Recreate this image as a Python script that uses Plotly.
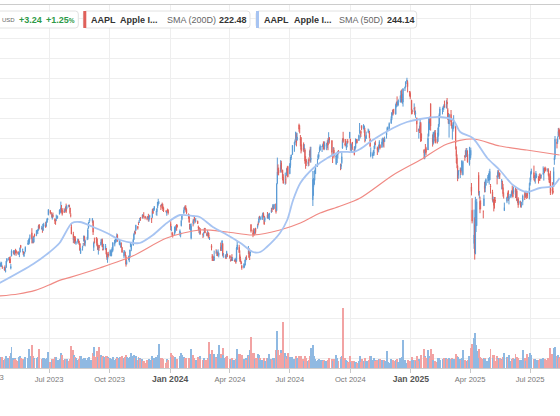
import pandas as pd
import plotly.graph_objects as go

W, H = 560, 416
PLOT_TOP, PLOT_BOTTOM = 5, 368

# trading calendar of the visible window
start_day = "2023-04-17"
end_day = "2025-08-15"
market_holidays = [
    "2023-05-29", "2023-06-19", "2023-07-04", "2023-09-04", "2023-11-23", "2023-12-25",
    "2024-01-01", "2024-01-15", "2024-02-19", "2024-03-29", "2024-05-27", "2024-06-19",
    "2024-07-04", "2024-09-02", "2024-11-28", "2024-12-25",
    "2025-01-01", "2025-01-09", "2025-01-20", "2025-02-17", "2025-04-18", "2025-05-26",
    "2025-06-19", "2025-07-04",
]

# daily AAPL candles, one row per month (Apr 2023 .. Aug 2025)
opens = [
    165.1, 166.1, 165.8, 166.1, 165.1, 165.0, 165.2, 163.1, 165.2, 168.5,
    169.3, 170.1, 169.5, 164.9, 171.0, 172.5, 173.1, 172.6, 173.9, 173.6, 173.2, 171.9, 171.7, 173.0, 176.4, 173.9, 173.1, 171.1, 172.4, 173.3, 176.9, 177.3,
    177.7, 181.0, 182.6, 179.0, 178.4, 177.9, 181.5, 181.3, 182.8, 183.4, 183.9, 186.7, 184.4, 184.9, 183.7, 185.8, 186.8, 185.9, 187.9, 189.1, 191.6,
    193.8, 191.6, 189.8, 191.4, 189.3, 189.2, 189.7, 190.5, 190.2, 191.9, 193.4, 193.1, 195.1, 194.1, 193.4, 193.3, 193.7, 196.0, 194.7, 196.1,
    196.2, 195.0, 191.6, 185.5, 182.1, 179.7, 180.9, 179.5, 177.3, 178.0, 178.9, 177.1, 177.1, 172.3, 175.1, 177.1, 178.5, 180.7, 177.4, 180.1, 179.7, 184.9, 187.8,
    189.5, 188.3, 188.4, 175.2, 178.4, 180.1, 179.5, 176.5, 174.0, 176.5, 176.5, 177.5, 179.3, 174.6, 174.7, 174.2, 174.8, 172.6, 169.3, 172.0,
    171.2, 172.3, 171.1, 173.8, 173.8, 176.8, 178.1, 178.2, 180.1, 181.4, 176.8, 176.7, 175.6, 176.0, 175.3, 170.9, 173.1, 171.9, 170.4, 166.9, 169.0, 169.4,
    171.0, 175.5, 174.2, 176.4, 179.2, 182.4, 183.0, 184.0, 185.8, 187.7, 187.8, 189.6, 190.3, 189.9, 191.4, 191.5, 190.9, 189.9, 189.8, 190.9, 189.8,
    190.3, 190.0, 190.2, 194.5, 193.6, 194.2, 193.1, 193.1, 195.1, 198.0, 197.5, 196.1, 196.2, 196.9, 196.1, 195.2, 193.6, 192.5, 194.1, 193.9,
    187.2, 184.2, 182.2, 182.0, 182.1, 183.9, 184.4, 186.5, 186.1, 182.2, 181.3, 186.1, 189.3, 192.3, 195.0, 195.4, 195.2, 194.3, 192.0, 190.9, 187.0,
    184.0, 179.9, 188.2, 187.1, 190.6, 189.4, 188.7, 188.4, 185.8, 185.3, 183.6, 183.4, 181.8, 181.9, 183.5, 185.0, 182.2, 181.1, 182.5, 181.3,
    179.6, 176.2, 170.8, 171.1, 169.2, 169.0, 172.9, 173.2, 172.8, 172.9, 171.2, 175.6, 174.3, 175.7, 177.1, 171.8, 170.6, 170.0, 170.4, 171.8,
    171.2, 169.1, 168.8, 170.3, 169.6, 169.0, 168.7, 168.8, 168.3, 174.3, 175.4, 171.8, 169.6, 168.0, 166.2, 165.5, 165.4, 166.5, 169.5, 169.9, 173.4, 173.3,
    169.6, 172.5, 186.6, 182.4, 183.5, 182.9, 182.6, 184.9, 185.4, 187.5, 187.9, 190.5, 189.5, 189.3, 191.1, 192.3, 191.0, 188.8, 191.5, 189.6, 190.8, 191.4,
    192.9, 194.6, 195.4, 195.7, 194.7, 197.0, 193.7, 207.4, 214.7, 213.9, 213.4, 217.6, 213.9, 210.4, 207.7, 209.2, 211.5, 214.7, 215.8,
    212.1, 216.2, 220.0, 221.7, 227.1, 227.9, 229.3, 231.4, 228.9, 236.5, 235.0, 229.5, 230.3, 224.8, 227.0, 224.4, 224.0, 218.9, 218.7, 217.0, 219.2, 221.4,
    224.4, 219.2, 199.1, 205.3, 206.9, 213.1, 212.1, 216.1, 219.6, 220.6, 224.6, 223.9, 225.7, 225.8, 226.5, 227.8, 225.7, 226.8, 226.0, 227.9, 227.9, 230.2,
    228.6, 221.7, 221.6, 224.0, 220.8, 218.9, 221.5, 222.5, 223.6, 216.5, 215.8, 217.6, 225.0, 230.0, 227.3, 228.6, 224.9, 227.3, 228.5, 230.0,
    229.5, 225.9, 225.1, 227.9, 224.5, 224.3, 225.2, 227.8, 229.3, 228.7, 233.6, 231.6, 233.4, 236.2, 234.5, 233.9, 234.1, 230.0, 229.7, 233.3, 233.1, 232.6, 229.3,
    221.0, 221.0, 221.8, 222.6, 224.6, 227.2, 225.0, 224.6, 224.0, 225.0, 226.4, 225.3, 227.0, 228.1, 228.9, 228.1, 231.5, 233.3, 234.5, 234.8,
    237.3, 239.8, 242.9, 244.0, 242.9, 241.8, 246.9, 248.0, 246.9, 247.8, 248.0, 250.1, 252.2, 247.5, 248.0, 254.8, 255.5, 258.2, 257.8, 252.2, 252.4,
    248.9, 243.4, 244.3, 243.0, 241.9, 240.0, 233.5, 234.8, 234.6, 237.4, 232.1, 224.0, 219.8, 224.7, 224.8, 224.0, 230.9, 234.1, 238.7, 247.2,
    230.0, 227.3, 228.5, 231.3, 232.6, 229.6, 228.2, 231.2, 236.9, 241.3, 244.2, 244.7, 244.9, 246.0, 244.9, 248.0, 244.3, 239.4, 237.0,
    241.8, 237.7, 235.4, 234.4, 235.1, 235.5, 223.8, 220.1, 216.0, 211.3, 213.3, 214.2, 214.2, 214.0, 211.6, 221.0, 220.8, 223.5, 221.4, 221.7, 217.0,
    219.8, 221.3, 205.5, 193.9, 177.2, 186.7, 172.0, 189.1, 186.1, 211.4, 201.9, 198.4, 197.2, 193.3, 196.1, 206.0, 204.9, 206.4, 210.0, 208.7, 209.3,
    209.1, 206.1, 203.1, 198.2, 199.2, 198.5, 199.0, 211.0, 210.4, 212.4, 211.0, 212.4, 207.9, 207.7, 205.2, 201.6, 193.7, 198.3, 200.6, 203.6, 199.4,
    200.3, 201.4, 202.9, 203.5, 203.0, 204.4, 200.6, 203.5, 199.1, 199.7, 197.3, 197.2, 195.9, 198.2, 201.6, 202.6, 201.5, 201.4, 201.9, 202.0,
    206.7, 208.9, 212.2, 212.7, 210.1, 209.5, 210.5, 210.6, 209.9, 209.2, 210.3, 210.6, 210.9, 212.1, 213.1, 215.0, 213.9, 214.7, 214.0, 214.2, 211.9, 208.5,
    210.9, 204.5, 203.4, 205.6, 218.9, 220.8, 227.9, 228.0, 231.1, 234.1, 234.0,
]
highs = [
    165.4, 167.4, 168.2, 167.9, 166.2, 165.6, 166.3, 165.3, 168.6, 169.9,
    170.5, 170.4, 170.9, 167.0, 174.3, 173.9, 173.5, 174.0, 174.6, 174.1, 173.2, 173.0, 172.9, 175.2, 176.4, 174.7, 173.4, 172.4, 173.1, 175.8, 178.9, 179.4,
    180.1, 181.8, 184.9, 180.1, 181.1, 180.8, 182.2, 183.9, 184.1, 184.4, 186.5, 186.9, 186.1, 185.4, 187.1, 187.6, 188.1, 188.4, 189.9, 190.1, 194.5,
    193.9, 192.9, 192.0, 192.7, 189.9, 189.3, 191.7, 191.2, 191.2, 194.3, 194.3, 198.2, 196.5, 194.9, 194.9, 194.4, 195.6, 197.2, 196.5, 196.5,
    196.7, 195.2, 192.4, 187.4, 183.1, 180.3, 180.9, 180.8, 178.6, 179.7, 179.4, 178.5, 177.5, 175.1, 176.1, 177.5, 181.1, 181.1, 179.2, 180.6, 184.9, 187.9, 189.0,
    189.9, 190.0, 188.9, 178.2, 180.2, 180.5, 180.1, 177.3, 176.1, 176.5, 179.4, 179.6, 179.7, 176.3, 177.1, 177.0, 175.0, 173.0, 172.0, 173.1,
    174.3, 173.6, 174.3, 175.5, 178.0, 179.1, 179.7, 179.9, 182.3, 181.9, 179.1, 178.4, 177.6, 177.8, 175.4, 174.0, 173.7, 173.1, 171.4, 169.0, 171.2, 170.9,
    174.2, 177.8, 176.8, 179.4, 182.4, 183.5, 184.1, 186.6, 186.0, 188.1, 189.0, 190.0, 190.4, 191.9, 191.5, 192.9, 190.9, 190.7, 191.0, 192.1, 190.3,
    191.6, 190.1, 194.4, 194.8, 195.0, 196.0, 193.5, 194.7, 198.0, 199.6, 198.4, 196.6, 197.0, 197.7, 197.1, 195.4, 193.9, 193.5, 194.7, 194.4,
    188.4, 185.9, 183.1, 182.8, 185.6, 185.2, 186.4, 187.0, 186.7, 184.3, 182.9, 189.1, 192.0, 195.3, 195.8, 196.4, 196.3, 194.8, 192.2, 191.8, 187.1,
    187.0, 187.3, 189.3, 189.3, 191.1, 189.5, 190.0, 188.7, 186.2, 185.5, 184.5, 184.9, 182.4, 182.9, 185.0, 185.0, 182.8, 183.9, 183.1, 182.6,
    180.5, 176.9, 172.0, 171.2, 170.7, 173.7, 174.4, 174.0, 173.2, 174.3, 172.6, 177.7, 176.6, 178.7, 177.5, 172.3, 171.9, 171.4, 173.6, 172.2,
    171.3, 169.3, 170.7, 171.9, 170.4, 169.2, 170.1, 169.1, 175.5, 178.4, 176.6, 173.8, 170.7, 168.6, 166.4, 167.3, 167.1, 169.3, 170.6, 171.3, 176.0, 175.0,
    172.7, 173.4, 187.0, 184.2, 184.9, 183.1, 184.7, 185.1, 187.1, 188.3, 190.7, 191.1, 190.8, 191.6, 192.7, 192.8, 191.0, 190.6, 193.0, 192.2, 192.2, 192.6,
    195.0, 195.3, 196.9, 196.5, 196.9, 197.3, 207.2, 220.2, 216.8, 215.2, 218.9, 218.6, 214.2, 211.9, 212.7, 211.4, 214.9, 215.7, 216.1,
    217.5, 220.4, 221.6, 226.5, 227.9, 229.4, 233.1, 232.4, 232.6, 237.2, 236.3, 231.5, 230.4, 226.8, 227.8, 226.9, 224.8, 220.9, 219.5, 219.3, 220.3, 223.8,
    225.6, 225.6, 213.5, 210.0, 213.6, 214.2, 216.8, 219.5, 221.9, 223.0, 225.4, 226.8, 226.0, 227.2, 228.3, 228.3, 228.2, 227.3, 228.9, 229.9, 232.9, 230.4,
    229.0, 221.8, 225.5, 225.2, 221.3, 221.5, 223.1, 223.6, 224.0, 217.2, 216.9, 222.7, 229.8, 233.1, 229.5, 229.5, 227.3, 228.5, 229.5, 233.0,
    229.7, 227.4, 226.8, 228.0, 225.7, 226.0, 229.8, 229.5, 229.4, 231.7, 237.5, 232.1, 233.9, 236.2, 236.9, 236.2, 235.1, 230.8, 233.2, 234.7, 234.3, 233.5, 229.8,
    225.3, 222.8, 224.0, 226.1, 227.9, 228.7, 225.7, 225.6, 226.7, 228.9, 226.9, 229.7, 230.2, 229.9, 230.2, 230.7, 233.2, 235.6, 235.7, 237.8,
    240.8, 242.8, 244.1, 244.5, 244.6, 247.2, 248.2, 250.8, 248.7, 249.3, 251.4, 253.8, 254.3, 252.0, 255.0, 255.7, 258.2, 260.1, 258.7, 253.5, 253.3,
    249.1, 244.2, 247.3, 245.6, 243.7, 240.2, 234.7, 236.2, 239.0, 238.0, 232.3, 224.4, 224.1, 227.0, 225.6, 232.2, 240.2, 239.9, 240.8, 247.2,
    231.8, 233.1, 232.7, 233.8, 234.0, 230.6, 235.2, 237.0, 242.3, 245.6, 245.2, 246.0, 246.8, 248.7, 248.9, 250.0, 245.0, 242.5, 242.1,
    244.0, 240.1, 236.6, 237.9, 241.4, 236.2, 225.8, 221.8, 216.8, 214.0, 215.2, 215.2, 218.8, 217.5, 218.8, 221.5, 224.1, 225.0, 225.0, 223.8, 225.6,
    223.8, 225.2, 207.5, 199.9, 194.2, 190.3, 200.6, 194.8, 199.5, 212.9, 203.5, 200.7, 198.8, 193.8, 201.6, 208.0, 208.8, 209.8, 211.5, 212.2, 213.6,
    214.6, 207.0, 204.1, 200.7, 199.4, 200.5, 200.5, 211.3, 213.9, 213.9, 213.0, 212.6, 209.5, 208.6, 207.0, 202.8, 197.7, 200.7, 202.7, 203.8, 202.0,
    202.1, 203.8, 206.2, 204.8, 205.7, 206.0, 204.4, 204.5, 199.7, 200.4, 198.7, 198.4, 198.0, 201.7, 203.4, 203.4, 203.7, 202.6, 203.2, 207.4,
    210.2, 213.3, 214.7, 216.2, 211.4, 211.3, 213.5, 212.1, 210.9, 211.9, 212.4, 211.8, 211.8, 215.8, 215.0, 215.2, 215.7, 215.2, 214.9, 214.8, 212.4, 209.8,
    213.6, 207.9, 205.3, 215.4, 220.9, 231.0, 229.6, 230.8, 235.0, 235.1, 234.3,
]
lows = [
    164.0, 165.8, 165.5, 165.6, 164.6, 163.9, 163.6, 162.8, 165.2, 167.9,
    168.8, 167.5, 167.3, 164.3, 170.8, 172.1, 171.5, 171.3, 172.2, 171.1, 171.7, 171.8, 170.4, 172.7, 174.9, 172.8, 171.6, 170.5, 172.0, 173.1, 176.6, 176.6,
    176.9, 179.3, 177.3, 177.4, 177.3, 177.7, 180.6, 180.9, 182.2, 182.0, 183.8, 184.3, 184.4, 182.6, 183.7, 185.7, 185.2, 185.8, 187.6, 188.9, 191.3,
    191.8, 190.2, 189.2, 190.2, 187.0, 186.6, 188.5, 189.8, 189.6, 191.8, 192.4, 192.7, 192.7, 191.2, 192.6, 192.9, 193.3, 192.5, 194.3, 195.3,
    195.3, 191.9, 190.3, 181.9, 177.4, 177.6, 177.1, 177.4, 176.6, 177.1, 177.4, 176.5, 173.5, 172.0, 173.7, 175.9, 178.2, 176.3, 175.8, 178.9, 179.1, 184.7, 187.5,
    188.3, 187.6, 181.5, 173.5, 177.3, 177.3, 175.8, 174.0, 171.7, 173.6, 176.2, 177.1, 175.4, 173.9, 174.1, 174.2, 171.7, 169.1, 167.6, 170.3,
    171.0, 170.8, 170.9, 172.8, 173.2, 175.8, 177.6, 177.8, 179.0, 178.1, 176.5, 176.1, 175.1, 175.2, 172.6, 169.9, 171.5, 170.6, 165.7, 166.8, 168.9, 167.9,
    170.1, 175.5, 173.4, 176.2, 179.0, 181.6, 181.8, 183.5, 184.2, 186.4, 187.6, 188.6, 188.6, 189.9, 189.7, 190.8, 189.3, 188.9, 189.4, 188.2, 188.2,
    189.2, 187.5, 190.2, 192.1, 193.6, 193.7, 191.4, 191.1, 194.8, 196.2, 197.0, 194.0, 195.9, 194.8, 193.5, 193.0, 192.8, 191.1, 193.2, 191.7,
    183.9, 183.4, 180.9, 180.2, 181.5, 182.7, 183.9, 183.6, 185.2, 180.9, 180.3, 185.8, 188.8, 192.3, 193.8, 194.3, 193.1, 191.9, 189.6, 187.5, 184.4,
    183.8, 179.3, 185.8, 186.8, 188.8, 187.4, 188.0, 187.0, 183.6, 182.4, 181.7, 181.7, 180.0, 180.6, 182.5, 182.4, 180.9, 180.9, 180.1, 179.6,
    179.0, 173.8, 168.5, 168.5, 168.5, 168.5, 172.1, 171.0, 170.9, 172.2, 170.3, 173.5, 173.5, 175.1, 170.8, 170.1, 170.0, 169.5, 170.1, 170.5,
    169.5, 168.2, 168.5, 168.6, 168.5, 168.2, 168.4, 167.1, 168.2, 174.2, 172.5, 168.2, 168.0, 166.8, 164.1, 164.8, 165.1, 166.2, 168.2, 169.0, 172.0, 170.0,
    169.1, 170.9, 182.7, 180.4, 181.3, 181.3, 182.1, 182.1, 184.7, 186.3, 187.4, 189.4, 188.9, 189.0, 190.9, 190.3, 186.6, 188.0, 189.9, 189.5, 190.1, 188.9,
    192.5, 193.0, 194.5, 194.1, 194.4, 192.2, 193.6, 206.9, 211.6, 211.3, 212.7, 212.7, 208.8, 207.1, 206.6, 207.1, 211.1, 212.4, 210.3,
    211.9, 215.1, 219.0, 221.6, 223.1, 226.4, 229.2, 225.8, 228.7, 233.1, 232.3, 225.8, 222.3, 223.3, 223.1, 222.7, 217.1, 214.6, 216.0, 215.8, 216.1, 220.6,
    217.7, 217.7, 196.0, 201.1, 206.4, 208.8, 212.0, 215.6, 219.2, 219.7, 222.8, 223.7, 223.0, 225.5, 224.3, 223.9, 224.3, 223.9, 224.9, 223.9, 228.9, 227.2,
    221.2, 217.5, 221.5, 219.8, 216.7, 216.7, 217.5, 219.8, 221.9, 213.9, 214.4, 217.0, 224.6, 227.6, 225.8, 225.9, 224.0, 225.4, 227.3, 229.7,
    223.7, 223.0, 223.0, 224.1, 221.3, 223.2, 224.8, 227.2, 227.3, 228.6, 232.1, 229.8, 230.5, 234.0, 234.5, 232.6, 227.8, 228.4, 229.6, 232.6, 232.3, 229.8, 225.4,
    220.3, 219.7, 221.1, 221.2, 224.6, 226.4, 221.5, 223.4, 222.8, 225.0, 224.3, 225.2, 226.7, 225.7, 225.2, 228.1, 229.7, 233.1, 233.8, 233.8,
    237.2, 238.9, 241.3, 241.3, 242.1, 241.8, 245.3, 246.3, 245.7, 246.2, 247.7, 249.8, 247.7, 247.1, 245.7, 253.5, 255.3, 257.0, 252.8, 250.8, 249.4,
    241.8, 241.9, 243.0, 241.4, 240.1, 233.0, 229.7, 232.5, 234.4, 228.0, 228.5, 219.4, 219.4, 222.3, 221.4, 224.0, 230.8, 234.1, 237.2, 233.7,
    225.7, 226.7, 228.3, 230.4, 227.3, 227.2, 228.0, 230.7, 235.6, 240.8, 241.8, 243.0, 244.1, 245.2, 244.9, 244.9, 239.1, 237.0, 230.2,
    236.1, 234.7, 229.2, 233.2, 234.7, 224.2, 217.5, 214.9, 208.4, 209.6, 210.0, 211.5, 213.6, 212.2, 211.3, 218.6, 220.1, 220.5, 220.6, 217.7, 216.2,
    219.0, 220.1, 201.3, 187.3, 174.6, 169.2, 171.9, 183.0, 186.1, 201.2, 199.8, 192.4, 194.4, 189.8, 196.0, 202.8, 202.9, 206.1, 207.5, 208.4, 206.7,
    208.9, 202.2, 198.2, 197.5, 193.3, 194.7, 197.5, 206.8, 209.6, 210.6, 209.5, 209.5, 204.3, 204.4, 200.7, 199.7, 193.5, 197.4, 199.9, 198.5, 196.8,
    200.1, 201.0, 202.1, 200.2, 202.1, 200.0, 200.6, 198.4, 197.4, 195.1, 196.6, 195.2, 195.2, 196.4, 199.0, 200.2, 200.6, 199.5, 200.0, 199.3,
    206.1, 208.1, 211.8, 208.8, 208.2, 207.2, 210.1, 209.9, 207.2, 208.6, 208.6, 209.6, 209.7, 211.6, 208.7, 212.4, 213.5, 213.2, 213.1, 210.8, 207.7, 207.5,
    201.5, 201.7, 202.2, 205.6, 216.6, 219.3, 224.8, 227.1, 230.4, 230.9, 229.3,
]
closes = [
    165.2, 166.5, 167.6, 166.7, 165.0, 165.3, 163.8, 163.8, 168.4, 169.7,
    169.6, 168.5, 167.5, 165.8, 173.6, 173.5, 171.8, 173.6, 173.8, 172.6, 172.1, 172.1, 172.7, 175.1, 175.2, 174.2, 171.6, 171.8, 173.0, 175.4, 177.3, 177.3,
    180.1, 181.0, 179.6, 179.2, 177.8, 180.6, 181.0, 183.8, 183.3, 184.0, 186.0, 184.9, 185.0, 184.0, 187.0, 186.7, 185.3, 188.1, 189.3, 189.6, 194.0,
    192.5, 191.3, 191.8, 190.7, 188.6, 188.1, 189.8, 190.5, 190.7, 194.0, 193.7, 195.1, 193.1, 191.9, 192.8, 193.6, 194.5, 193.2, 195.8, 196.5,
    195.6, 192.6, 191.2, 182.0, 178.9, 179.8, 178.2, 178.0, 177.8, 179.5, 177.5, 176.6, 174.0, 174.5, 175.8, 177.2, 181.1, 176.4, 178.6, 180.2, 184.1, 187.7, 187.9,
    189.5, 189.7, 182.9, 177.6, 178.2, 179.4, 176.3, 174.2, 175.7, 175.0, 178.0, 179.1, 175.5, 173.9, 174.8, 176.1, 172.0, 170.4, 170.7, 171.2,
    173.8, 172.4, 173.7, 174.9, 177.5, 179.0, 178.4, 179.8, 180.7, 178.9, 178.7, 177.2, 175.8, 175.5, 172.9, 173.0, 173.4, 171.1, 166.9, 168.2, 170.3, 170.8,
    174.0, 177.6, 176.7, 179.2, 181.8, 182.9, 182.4, 186.4, 184.8, 187.4, 188.0, 189.7, 189.7, 191.5, 190.6, 191.3, 190.0, 189.8, 190.4, 189.4, 190.0,
    191.2, 189.4, 193.4, 192.3, 194.3, 195.7, 193.2, 194.7, 198.0, 198.1, 197.6, 195.9, 196.9, 194.8, 194.7, 193.6, 193.1, 193.2, 193.6, 192.5,
    185.6, 184.3, 181.9, 181.2, 185.6, 185.1, 186.2, 185.6, 185.9, 183.6, 182.7, 188.6, 191.6, 193.9, 195.2, 194.5, 194.2, 192.4, 191.7, 188.0, 184.4,
    186.9, 185.9, 187.7, 189.3, 189.4, 188.3, 188.9, 187.2, 185.0, 184.2, 183.9, 182.3, 181.6, 182.3, 184.4, 182.5, 181.2, 182.6, 181.4, 180.8,
    179.7, 175.1, 170.1, 169.1, 169.0, 170.7, 172.8, 173.2, 171.1, 173.0, 172.6, 173.7, 176.1, 178.7, 171.4, 172.3, 170.9, 169.7, 173.3, 171.5,
    170.0, 168.8, 169.7, 168.8, 169.6, 168.5, 169.7, 167.8, 175.0, 176.6, 172.7, 169.4, 168.0, 167.0, 165.0, 165.8, 166.9, 169.0, 169.9, 169.3, 173.5, 170.3,
    169.3, 173.0, 183.4, 181.7, 182.4, 182.7, 184.6, 183.1, 186.3, 187.4, 189.7, 189.8, 189.9, 191.0, 192.4, 190.9, 186.9, 190.0, 190.0, 190.3, 191.3, 192.3,
    194.0, 194.4, 195.9, 194.5, 196.9, 193.1, 207.2, 213.1, 214.2, 212.5, 216.7, 214.3, 209.7, 207.5, 208.1, 209.1, 213.3, 214.1, 210.6,
    216.8, 220.3, 221.6, 226.3, 227.8, 228.7, 233.0, 227.6, 230.5, 234.4, 234.8, 228.9, 224.2, 224.3, 224.0, 225.0, 218.5, 217.5, 218.0, 218.2, 218.8, 222.1,
    218.4, 219.9, 209.3, 207.2, 209.8, 213.3, 216.2, 217.5, 221.3, 221.7, 224.7, 226.1, 225.9, 226.5, 226.4, 224.5, 226.8, 227.2, 228.0, 226.5, 229.8, 229.0,
    222.8, 220.9, 222.4, 220.8, 220.9, 220.1, 222.7, 222.8, 222.5, 216.3, 216.8, 220.7, 228.9, 228.2, 226.5, 227.4, 226.4, 227.5, 227.8, 233.0,
    226.2, 226.8, 225.7, 226.8, 221.7, 225.8, 229.5, 229.0, 227.6, 231.3, 233.9, 231.8, 232.2, 235.0, 236.5, 235.9, 230.8, 230.6, 231.4, 233.4, 233.7, 230.1, 225.9,
    222.9, 222.0, 223.5, 222.7, 227.5, 227.0, 224.2, 224.2, 225.1, 228.2, 225.0, 228.0, 228.3, 229.0, 228.5, 229.9, 232.9, 235.1, 234.9, 237.3,
    239.6, 242.7, 243.0, 243.0, 242.8, 246.8, 247.8, 246.5, 248.0, 248.1, 251.0, 253.5, 248.1, 249.8, 254.5, 255.3, 258.2, 259.0, 255.6, 252.2, 250.4,
    243.9, 243.4, 245.0, 242.2, 242.7, 236.9, 234.4, 233.3, 237.9, 228.3, 230.0, 222.6, 223.8, 223.7, 222.8, 229.9, 238.3, 239.4, 237.6, 236.0,
    228.0, 232.8, 232.5, 233.2, 227.6, 227.7, 232.6, 236.9, 241.5, 244.6, 244.5, 244.9, 245.8, 245.6, 247.1, 247.0, 240.4, 237.3, 241.8,
    238.0, 235.9, 235.7, 235.3, 239.1, 227.5, 220.8, 217.0, 209.7, 213.5, 214.0, 212.7, 215.2, 214.1, 218.3, 220.7, 223.8, 221.5, 223.9, 217.9, 222.1,
    223.2, 223.9, 203.2, 188.4, 181.5, 172.4, 198.9, 190.4, 198.2, 202.5, 202.1, 194.3, 197.0, 193.2, 199.7, 204.6, 208.4, 209.3, 210.1, 211.2, 212.5,
    213.3, 205.4, 198.9, 198.5, 196.3, 197.5, 198.5, 210.8, 212.9, 212.3, 211.5, 211.3, 208.8, 206.9, 202.1, 201.4, 195.3, 200.2, 200.4, 200.0, 200.9,
    201.7, 203.3, 202.8, 200.6, 203.9, 201.5, 202.7, 198.8, 199.2, 196.5, 198.4, 195.6, 196.6, 201.0, 201.5, 200.3, 201.6, 201.0, 201.1, 205.2,
    207.8, 212.4, 213.6, 210.0, 210.0, 211.1, 212.4, 211.2, 208.6, 209.1, 210.2, 210.0, 211.2, 212.5, 214.4, 214.2, 213.8, 213.9, 214.1, 211.3, 209.1, 207.6,
    202.4, 203.4, 202.9, 213.3, 220.0, 229.4, 227.2, 229.7, 233.3, 232.8, 231.6,
]
# daily volume, millions of shares
volumes_m = [
    41, 49, 58, 52, 58, 41, 48, 45, 64, 55,
    52, 49, 66, 81, 113, 55, 45, 53, 49, 45, 37, 43, 57, 66, 55, 44, 50, 45, 56, 54, 55, 99,
    68, 61, 122, 64, 61, 51, 48, 55, 54, 57, 66, 101, 50, 49, 51, 54, 48, 50, 51, 46, 85,
    31, 46, 45, 47, 60, 46, 60, 41, 41, 50, 48, 80, 59, 71, 45, 37, 47, 47, 48, 38,
    35, 50, 61, 115, 97, 67, 60, 54, 52, 43, 43, 46, 66, 61, 46, 42, 52, 54, 52, 43, 53, 60, 60,
    45, 45, 81, 112, 65, 58, 90, 84, 60, 109, 67, 51, 58, 63, 56, 46, 64, 66, 56, 51,
    52, 49, 43, 48, 58, 43, 43, 48, 57, 51, 52, 57, 54, 59, 65, 55, 44, 57, 70, 58, 51, 44,
    56, 77, 80, 63, 70, 49, 54, 66, 43, 60, 53, 54, 50, 46, 38, 39, 24, 40, 38, 43, 48,
    45, 43, 66, 41, 47, 53, 60, 52, 70, 67, 128, 55, 40, 52, 46, 37, 28, 48, 34, 42,
    82, 58, 71, 62, 59, 42, 46, 49, 40, 65, 47, 78, 68, 60, 42, 53, 54, 44, 47, 55, 55,
    64, 102, 69, 43, 53, 40, 45, 42, 56, 54, 65, 49, 43, 41, 53, 45, 40, 54, 48, 136,
    73, 82, 95, 68, 71, 76, 60, 59, 52, 72, 121, 75, 55, 53, 106, 71, 54, 57, 60, 65,
    46, 49, 47, 53, 42, 38, 43, 50, 91, 101, 73, 73, 50, 44, 68, 48, 49, 48, 51, 44, 68, 65,
    50, 94, 163, 79, 77, 45, 49, 51, 72, 53, 70, 52, 45, 44, 42, 34, 51, 37, 52, 53, 49, 75,
    50, 47, 54, 41, 53, 97, 172, 198, 97, 70, 93, 79, 86, 246, 80, 56, 66, 50, 82,
    60, 58, 38, 60, 48, 49, 62, 64, 53, 62, 43, 57, 66, 49, 49, 39, 61, 51, 41, 37, 42, 50,
    62, 105, 120, 69, 63, 47, 42, 38, 44, 41, 46, 44, 40, 31, 35, 43, 38, 30, 35, 43, 52, 53,
    50, 43, 38, 48, 68, 52, 44, 38, 37, 59, 46, 60, 66, 318, 55, 43, 42, 37, 34, 55,
    63, 32, 35, 37, 39, 32, 32, 29, 29, 39, 64, 35, 32, 47, 37, 38, 52, 31, 38, 36, 36, 41, 65,
    65, 44, 28, 54, 42, 37, 42, 40, 48, 44, 47, 44, 36, 35, 42, 38, 90, 46, 33, 28,
    48, 38, 45, 40, 36, 44, 37, 46, 33, 33, 51, 51, 56, 60, 147, 40, 23, 27, 42, 35, 39,
    56, 40, 45, 40, 38, 61, 50, 39, 40, 71, 68, 99, 64, 60, 54, 94, 65, 45, 55, 101,
    73, 45, 39, 29, 39, 34, 53, 45, 54, 40, 48, 32, 32, 53, 51, 48, 45, 41, 53,
    47, 53, 47, 45, 46, 72, 76, 63, 60, 60, 48, 42, 54, 48, 94, 44, 34, 34, 37, 40, 66,
    37, 53, 104, 126, 161, 120, 184, 121, 88, 101, 52, 60, 52, 47, 53, 53, 47, 38, 39, 37, 52,
    58, 101, 69, 51, 68, 55, 36, 63, 51, 49, 46, 54, 46, 42, 59, 46, 78, 57, 45, 51, 70,
    35, 46, 43, 55, 47, 72, 54, 60, 43, 51, 43, 38, 45, 96, 55, 54, 39, 50, 73, 56,
    79, 67, 34, 50, 42, 48, 44, 40, 38, 42, 47, 49, 49, 51, 46, 46, 46, 40, 38, 51, 46, 80,
    104, 75, 44, 108, 90, 113, 61, 55, 69, 51, 56,
]

# moving averages
sma200_dates = [
    "2023-04-17", "2023-05-15", "2023-06-10", "2023-07-01", "2023-07-17", "2023-08-02",
    "2023-09-16", "2023-11-05", "2023-12-27", "2024-02-15", "2024-03-28", "2024-05-06",
    "2024-06-16", "2024-07-17", "2024-08-16", "2024-09-16", "2024-10-16", "2024-12-05",
    "2025-01-15", "2025-02-25", "2025-04-05", "2025-05-16", "2025-06-26", "2025-08-15",
]
sma200_values = [
    151.0, 152.0, 153.8, 156.5, 158.8, 160.3,
    165.0, 171.0, 180.0, 184.0, 183.0, 181.5,
    184.0, 187.5, 192.5, 196.0, 200.0, 211.5,
    219.0, 227.0, 229.5, 226.0, 224.0, 221.5,
]
sma50_dates = [
    "2023-04-17", "2023-06-07", "2023-07-02", "2023-07-17", "2023-08-05", "2023-08-17",
    "2023-09-06", "2023-09-27", "2023-10-17", "2023-11-06", "2023-11-16", "2023-12-06",
    "2023-12-27", "2024-01-16", "2024-02-05", "2024-02-15", "2024-03-06", "2024-03-28",
    "2024-04-17", "2024-05-06", "2024-05-17", "2024-05-27", "2024-06-16", "2024-06-27",
    "2024-07-06", "2024-07-17", "2024-08-06", "2024-08-27", "2024-09-16", "2024-10-06",
    "2024-10-16", "2024-11-04", "2024-12-05", "2024-12-26", "2025-01-15", "2025-02-14",
    "2025-03-06", "2025-03-17", "2025-04-05", "2025-04-27", "2025-05-16", "2025-06-05",
    "2025-06-26", "2025-07-16", "2025-08-05", "2025-08-15",
]
sma50_values = [
    157.5, 167.0, 173.0, 177.5, 187.5, 188.0,
    185.5, 182.5, 179.0, 177.5, 177.5, 181.5,
    187.5, 191.5, 191.0, 190.5, 185.5, 181.5,
    177.5, 173.0, 173.0, 175.5, 182.5, 189.0,
    199.0, 207.5, 215.0, 220.0, 223.0, 223.0,
    224.5, 229.0, 235.0, 238.0, 239.5, 240.5,
    239.0, 233.0, 230.0, 220.0, 214.0, 206.5,
    203.0, 205.0, 206.0, 210.0,
]

tick_dates = ["2023-07-01", "2023-10-01", "2024-01-01", "2024-04-01", "2024-07-01",
              "2024-10-01", "2025-01-01", "2025-04-01", "2025-07-01"]
tick_labels = ["Jul 2023", "Oct 2023", "Jan 2024", "Apr 2024", "Jul 2024",
               "Oct 2024", "Jan 2025", "Apr 2025", "Jul 2025"]

days = pd.bdate_range(start_day, end_day, freq="C", holidays=market_holidays)
assert len(days) == len(closes) == len(opens) == len(highs) == len(lows) == len(volumes_m), \
    (len(days), len(closes), len(opens), len(highs), len(lows), len(volumes_m))

UP = "#5b9bd5"
DOWN = "#e0605a"
FONT = "Liberation Sans, Arial, sans-serif"


def px_x(x):
    return x / W


def px_y(y):
    return (PLOT_BOTTOM - y) / (PLOT_BOTTOM - PLOT_TOP)


def rounded_box(x0, y0, x1, y1, r=3):
    X, Y = px_x, px_y
    return (f"M {X(x0 + r)},{Y(y0)} L {X(x1 - r)},{Y(y0)} Q {X(x1)},{Y(y0)} {X(x1)},{Y(y0 + r)} "
            f"L {X(x1)},{Y(y1 - r)} Q {X(x1)},{Y(y1)} {X(x1 - r)},{Y(y1)} "
            f"L {X(x0 + r)},{Y(y1)} Q {X(x0)},{Y(y1)} {X(x0)},{Y(y1 - r)} "
            f"L {X(x0)},{Y(y0 + r)} Q {X(x0)},{Y(y0)} {X(x0 + r)},{Y(y0)} Z")


vol_colors = ["#8fb9e2" if c >= o else "#f2a3a3" for o, c in zip(opens, closes)]

fig = go.Figure()

fig.add_trace(go.Bar(
    x=days, y=volumes_m, yaxis="y2",
    marker=dict(color=vol_colors, line=dict(width=0)),
    width=86400000 * 1.45,
    hoverinfo="skip",
))

fig.add_trace(go.Candlestick(
    x=days, open=opens, high=highs, low=lows, close=closes,
    increasing=dict(line=dict(color=UP, width=1), fillcolor=UP),
    decreasing=dict(line=dict(color=DOWN, width=1), fillcolor=DOWN),
    whiskerwidth=0,
    hoverinfo="skip",
))

fig.add_trace(go.Scatter(
    x=sma200_dates, y=sma200_values, mode="lines",
    line=dict(color="#f08a84", width=1.2, shape="spline", smoothing=0.8),
    hoverinfo="skip",
))
fig.add_trace(go.Scatter(
    x=sma50_dates, y=sma50_values, mode="lines",
    line=dict(color="#a7c4f2", width=1.8, shape="spline", smoothing=0.8),
    hoverinfo="skip",
))

tick_text = []
for lab in tick_labels:
    if lab.startswith("Jan"):
        tick_text.append(f'<span style="font-size:8.6px;color:#555"><b>{lab}</b></span>')
    else:
        tick_text.append(lab)

fig.update_layout(
    width=W, height=H,
    margin=dict(l=0, r=0, t=PLOT_TOP, b=H - PLOT_BOTTOM),
    paper_bgcolor="white", plot_bgcolor="white",
    showlegend=False,
    font=dict(family=FONT),
    bargap=0,
    xaxis=dict(
        type="date",
        range=["2023-04-17 12:43", "2025-08-15 14:10"],
        rangeslider=dict(visible=False),
        tickvals=tick_dates, ticktext=tick_text,
        tickfont=dict(size=7.6, color="#777"),
        ticks="outside", ticklen=4, tickcolor="#c8c8c8",
        showgrid=True, gridcolor="#eeeeee", gridwidth=1,
        showline=True, linecolor="#cccccc", linewidth=1, mirror=True,
        zeroline=False,
    ),
    yaxis=dict(
        range=[115, 296.5],
        dtick=10, tick0=0,
        showgrid=True, gridcolor="#eeeeee", gridwidth=1,
        showticklabels=False, zeroline=False, showline=False,
    ),
    yaxis2=dict(
        range=[0, 1921], overlaying="y",
        showgrid=False, showticklabels=False, zeroline=False, showline=False,
    ),
)

# legend chips at the top
shapes = [
    dict(type="path", path=rounded_box(-10, 11, 78.3, 28), xref="paper", yref="paper",
         fillcolor="white", line=dict(color="#e2e2e2", width=1), layer="above"),
    dict(type="path", path=rounded_box(83.3, 11, 250, 28), xref="paper", yref="paper",
         fillcolor="white", line=dict(color="#e2e2e2", width=1), layer="above"),
    dict(type="path", path=rounded_box(256, 11, 416.7, 28), xref="paper", yref="paper",
         fillcolor="white", line=dict(color="#e2e2e2", width=1), layer="above"),
    dict(type="rect", x0=px_x(83.3), x1=px_x(86.3), y0=px_y(28), y1=px_y(11),
         xref="paper", yref="paper", fillcolor="#e0605a", line=dict(width=0), layer="above"),
    dict(type="rect", x0=px_x(256), x1=px_x(259), y0=px_y(28), y1=px_y(11),
         xref="paper", yref="paper", fillcolor="#a7c4f2", line=dict(width=0), layer="above"),
]
fig.update_layout(shapes=shapes)

GREEN = "#2e9a47"
legend_bits = [
    (0.5, "USD", 6, "#666"),
    (18, "<b>+3.24</b>", 9, GREEN),
    (45, '<b>+1.25<span style="font-size:6.5px">%</span></b>', 9, GREEN),
    (90, "<b>AAPL</b>", 9, "#333"),
    (119.3, "<b>Apple I...</b>", 9, "#333"),
    (165.7, "SMA (200D)", 9, "#666"),
    (218.3, "<b>222.48</b>", 9, "#333"),
    (263.3, "<b>AAPL</b>", 9, "#333"),
    (292.5, "<b>Apple I...</b>", 9, "#333"),
    (338.3, "SMA (50D)", 9, "#666"),
    (386, "<b>244.14</b>", 9, "#333"),
]
for x, txt, size, col in legend_bits:
    fig.add_annotation(
        x=px_x(x), y=px_y(19.6), xref="paper", yref="paper",
        xanchor="left", yanchor="middle", text=txt, showarrow=False,
        font=dict(size=size, color=col, family=FONT), borderpad=0,
    )

# partly visible quarter label at the left edge
fig.add_annotation(
    x=px_x(-12), y=px_y(377.5), xref="paper", yref="paper",
    xanchor="center", yanchor="middle", text="Apr 2023", showarrow=False,
    font=dict(size=7.6, color="#777", family=FONT),
)

# the page body keeps its default 8px margin otherwise
fig.write_html("out.html", config={"displayModeBar": False},
               post_script="document.body.style.margin='0px';")
